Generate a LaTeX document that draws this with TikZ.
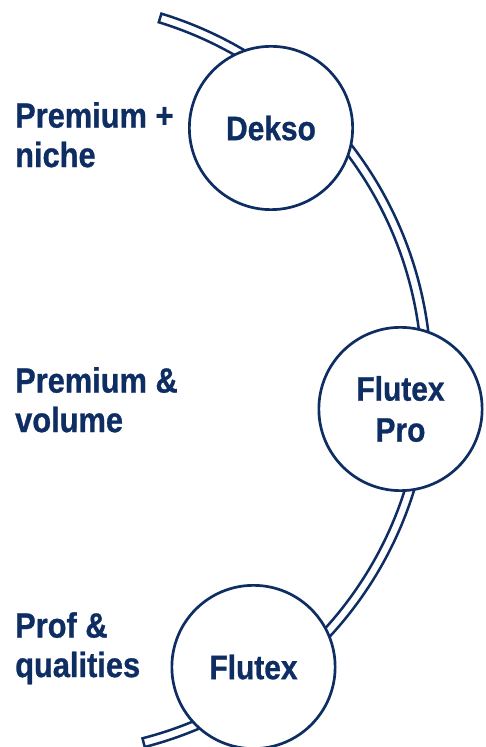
\documentclass[tikz,border=0pt]{standalone}
\usepackage{fontspec}
\usetikzlibrary{calc}
\newfontfamily\labfont{Liberation Sans}[FakeStretch=0.88,FakeBold=0.8]
\definecolor{navy}{RGB}{14,45,98}
\begin{document}
\begin{tikzpicture}[x=1pt,y=1pt,
  band/.style={draw=navy,line width=2.5pt,fill=white,line join=miter},
  ring/.style={circle,draw=navy,line width=2.7pt,fill=white,minimum size=163.3pt,inner sep=0pt,
    text=navy,font=\labfont\bfseries\fontsize{34}{41}\selectfont,align=center},
  lbl/.style={anchor=north west,inner sep=0pt,text=navy,align=left,
    font=\labfont\bfseries\fontsize{35}{39.5}\selectfont}]
\useasboundingbox (0,0) rectangle (486,747);
\coordinate (C) at (50,369);
% the band
\draw[band] ($(C)+(73:381)$) arc[start angle=73,end angle=-75.6,radius=381]
  -- ($(C)+(-75.6:372)$) arc[start angle=-75.6,end angle=73,radius=372] -- cycle;
% circles
\node[ring] (dekso) at (271,619) {Dekso};
\node[ring] (pro) at (400.5,338) {Flutex\\Pro};
\node[ring] (flutex) at (253.5,80) {Flutex};
% labels
\node[lbl] (l1) at (15,747-102) {Premium +\\niche};
\node[lbl] (l2) at (15,747-367) {Premium \&\\volume};
\node[lbl] (l3) at (15,747-612) {Prof \&\\qualities};
\end{tikzpicture}
\end{document}
